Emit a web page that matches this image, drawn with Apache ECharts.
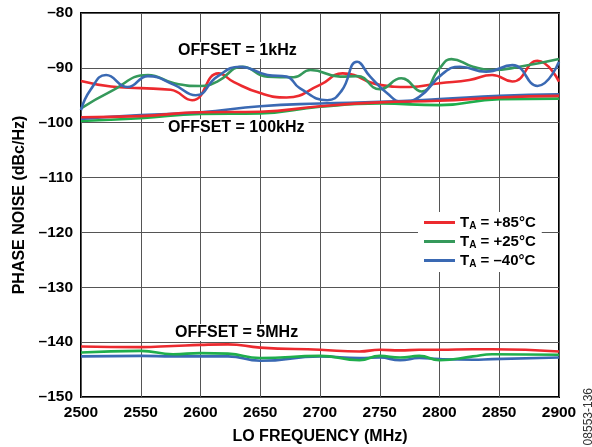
<!DOCTYPE html>
<html>
<head>
<meta charset="utf-8">
<script src="https://cdn.jsdelivr.net/npm/echarts@6/dist/echarts.min.js"></script>
<style>
  html, body { margin: 0; padding: 0; background: #fff; }
  #main { width: 592px; height: 447px; }
</style>
</head>
<body>
<div id="main"></div>
<script>
// 1kHz offset
var red1kF = [2500, 2525, 2550, 2575, 2593, 2615, 2628, 2650, 2672, 2700, 2719, 2750, 2775, 2800, 2825, 2844, 2861, 2882, 2900]
var red1kV = [-92.4, -93.4, -93.7, -94, -95.9, -91, -92.6, -94.6, -95.4, -93.1, -91, -93.1, -93.5, -92.8, -92.2, -91.3, -92.5, -88.7, -92.5]
var green1kF = [2500, 2525, 2556, 2578, 2600, 2614, 2635, 2656, 2678, 2692, 2717, 2731, 2750, 2768, 2785, 2800, 2810, 2828, 2844, 2867, 2900]
var green1kV = [-97.4, -94.3, -91.3, -92.8, -93.3, -92.5, -89.8, -91.6, -91.7, -90.4, -91.6, -91.5, -93.9, -91.9, -94.3, -90.1, -88.4, -89.8, -90.4, -89.8, -88.4]
var blue1kF = [2500, 2508, 2521, 2539, 2556, 2578, 2596, 2614, 2633, 2656, 2672, 2683, 2706, 2718, 2731, 2742, 2756, 2769, 2783, 2803, 2817, 2839, 2861, 2882, 2900]
var blue1kV = [-97.7, -94, -91.3, -93.5, -91.5, -93.1, -95, -91.6, -89.8, -91.3, -91.6, -93.7, -95.9, -94.2, -88.9, -91.6, -94.6, -96.2, -95.3, -91, -89.8, -90.7, -89.5, -93.3, -88.9]

// 100kHz offset
var f100k = [2500, 2550, 2600, 2650, 2700, 2750, 2800, 2850, 2900]
var red100kV = [-99, -98.8, -98.1, -98, -97, -96.3, -96, -95.4, -95.1]
var green100kV = [-99.7, -99.2, -98.4, -98.3, -97.1, -96.5, -96.8, -95.7, -95.6]
var blue100kV = [-99.3, -98.6, -98.1, -97, -96.5, -96.2, -95.7, -95.1, -94.8]

// 5MHz offset
var f5M = [2500, 2550, 2577, 2600, 2623, 2650, 2700, 2733, 2750, 2767, 2783, 2800, 2828, 2844, 2900]
var red5MV = [-140.8, -140.9, -140.7, -140.5, -140.4, -141, -141.4, -141.7, -141.4, -141.5, -141.4, -141.4, -141.3, -141.3, -141.7]
var green5MV = [-141.9, -141.6, -142.2, -142, -142.1, -142.9, -142.5, -143.3, -142.5, -142.8, -142.5, -143.3, -142.6, -142.2, -142.3]
var blue5MV = [-142.6, -142.5, -142.6, -142.6, -142.6, -143.4, -142.6, -142.9, -142.8, -143.3, -142.9, -143.1, -143.2, -143.1, -142.8]

var legendNames = ['T_A = +85°C', 'T_A = +25°C', 'T_A = –40°C']
var offsetLabels = ['OFFSET = 1kHz', 'OFFSET = 100kHz', 'OFFSET = 5MHz']

var RED = '#ec2a2f'
var GREEN = '#35995b'
var GREEN2 = '#1fae4c'
var BLUE = '#3a69b3'
var FONT = 'Liberation Sans, Arial, sans-serif'

function pairs(xs, ys) {
  return xs.map(function (x, i) { return [x, ys[i]] })
}

function line(name, color, xs, ys) {
  return {
    name: name,
    type: 'line',
    smooth: 0.5,
    symbol: 'none',
    lineStyle: { color: color, width: 2.6 },
    itemStyle: { color: color },
    data: pairs(xs, ys)
  }
}

// 白底文字标签，盖住网格线
function offsetText(text, left, top) {
  return {
    type: 'text',
    left: left,
    top: top,
    z: 100,
    style: {
      text: text,
      font: 'bold 16px ' + FONT,
      fill: '#000',
      backgroundColor: '#fff',
      padding: [1, 4, 0, 4]
    }
  }
}

var chart = echarts.init(document.getElementById('main'))
chart.setOption({
  animation: false,
  backgroundColor: '#fff',
  grid: {
    left: 81,
    right: 33,
    top: 13,
    bottom: 50,
    containLabel: false,
    outerBoundsMode: 'none',
    show: true,
    borderColor: '#000',
    borderWidth: 2
  },
  xAxis: {
    type: 'value',
    min: 2500,
    max: 2900,
    interval: 50,
    name: 'LO FREQUENCY (MHz)',
    nameLocation: 'middle',
    nameGap: 32,
    nameTextStyle: { fontFamily: FONT, fontWeight: 'bold', fontSize: 16, color: '#000' },
    axisLine: { show: false },
    axisTick: { show: false },
    axisLabel: {
      fontFamily: FONT, fontWeight: 'bold', fontSize: 15.5, color: '#000', margin: 8,
      formatter: function (v) { return String(v) }
    },
    splitLine: { lineStyle: { color: '#555', width: 1 } }
  },
  yAxis: {
    type: 'value',
    min: -150,
    max: -80,
    interval: 10,
    name: 'PHASE NOISE (dBc/Hz)',
    nameLocation: 'middle',
    nameGap: 52,
    nameTextStyle: { fontFamily: FONT, fontWeight: 'bold', fontSize: 16, color: '#000' },
    axisLine: { show: false },
    axisTick: { show: false },
    axisLabel: {
      fontFamily: FONT, fontWeight: 'bold', fontSize: 15.5, color: '#000', margin: 8,
      formatter: function (v) { return String(v).replace('-', '–') }
    },
    splitLine: { lineStyle: { color: '#555', width: 1 } }
  },
  legend: {
    orient: 'vertical',
    left: 418,
    top: 212,
    itemWidth: 31,
    itemHeight: 3,
    itemGap: 3,
    icon: 'rect',
    backgroundColor: '#fff',
    padding: [3, 6, 3, 6],
    data: legendNames,
    formatter: function (name) {
      var parts = name.split('_A')
      return '{b|' + parts[0] + '}{s|A}{b|' + parts[1] + '}'
    },
    textStyle: {
      rich: {
        b: { fontFamily: FONT, fontWeight: 'bold', fontSize: 15, color: '#000', lineHeight: 15 },
        s: { fontFamily: FONT, fontWeight: 'bold', fontSize: 10, color: '#000', padding: [7, 0, 0, 0] }
      }
    }
  },
  graphic: [
    offsetText(offsetLabels[0], 174, 42),
    offsetText(offsetLabels[1], 164, 119),
    offsetText(offsetLabels[2], 171, 324),
    {
      type: 'text',
      left: 583,
      top: 388,
      rotation: Math.PI / 2,
      style: { text: '08553-136', font: '12px ' + FONT, fill: '#333' }
    }
  ],
  series: [
    line(legendNames[0], RED, red1kF, red1kV),
    line(legendNames[1], GREEN, green1kF, green1kV),
    line(legendNames[2], BLUE, blue1kF, blue1kV),
    line(legendNames[1], GREEN2, f100k, green100kV),
    line(legendNames[2], BLUE, f100k, blue100kV),
    line(legendNames[0], RED, f100k, red100kV),
    line(legendNames[2], BLUE, f5M, blue5MV),
    line(legendNames[1], GREEN2, f5M, green5MV),
    line(legendNames[0], RED, f5M, red5MV)
  ]
})
</script>
</body>
</html>
